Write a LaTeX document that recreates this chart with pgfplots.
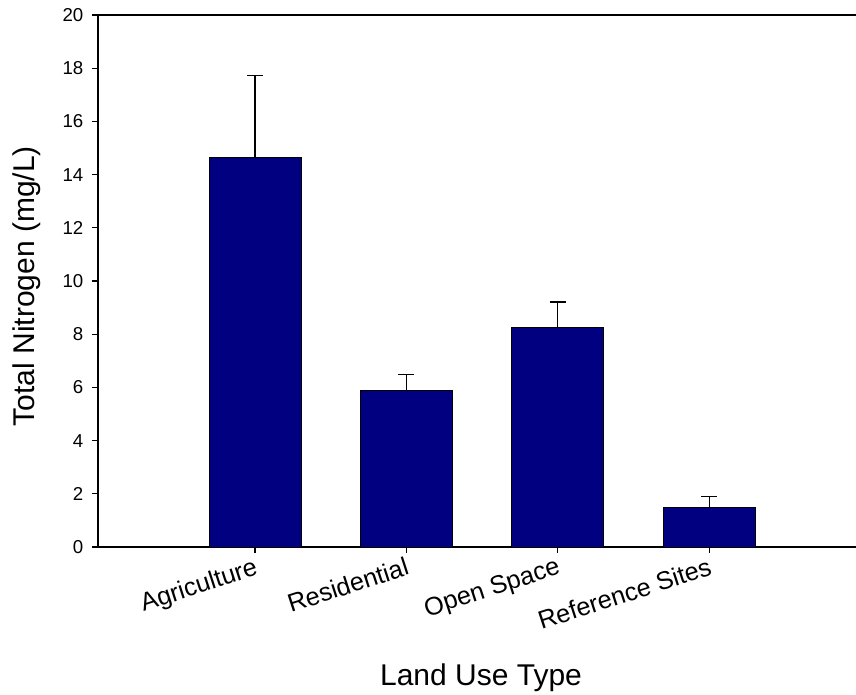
\documentclass[border=0pt]{standalone}
\usepackage{fontspec}
\setmainfont{Liberation Sans}
\usepackage{pgfplots}
\pgfplotsset{compat=1.18}
\definecolor{barnavy}{HTML}{000080}
\begin{document}
\begin{tikzpicture}
\path[use as bounding box] (-73.5pt,-110.25pt) rectangle (568.5pt,410.25pt);
\begin{axis}[
  at={(0,0)}, anchor=south west,
  width=568.5pt, height=399pt, scale only axis,
  xmin=-1.038, xmax=3.97, ymin=0, ymax=20,
  axis x line*=bottom, axis y line*=left,
  axis line style={line width=1pt},
  tick style={line width=1pt, black},
  tick align=outside, major tick length=4.5pt,
  xtick={0,1,2,3},
  xticklabels={Agriculture,Residential,Open Space,Reference Sites},
  ytick={0,2,...,20},
  /pgf/number format/assume math mode=true,
  yticklabel style={font=\fontsize{14}{16}\selectfont, xshift=-3pt},
  xticklabel style={font=\fontsize{19}{22}\selectfont, rotate=18, anchor=north east, inner sep=2pt},
  ybar, bar width=69pt,
  clip=false,
]
\addplot[fill=barnavy, draw=black, line width=0.5pt,
  error bars/.cd, y dir=plus, y explicit,
  error bar style={line width=1pt, black},
  error mark options={rotate=90, black, mark size=6pt, line width=1pt}]
  coordinates {
  (0,14.65) +- (0,3.08)
  (1,5.88) +- (0,0.61)
  (2,8.27) +- (0,0.94)
  (3,1.49) +- (0,0.41)
};
\draw[line width=1pt] (rel axis cs:0,1) -- (rel axis cs:1,1);
\end{axis}
\node[rotate=90, anchor=base, font=\fontsize{22.5}{26}\selectfont] at (-47.25pt,195.75pt) {Total Nitrogen (mg/L)};
\node[anchor=base, font=\fontsize{22.5}{26}\selectfont] at (287.25pt,-103.5pt) {Land Use Type};
\end{tikzpicture}
\end{document}
